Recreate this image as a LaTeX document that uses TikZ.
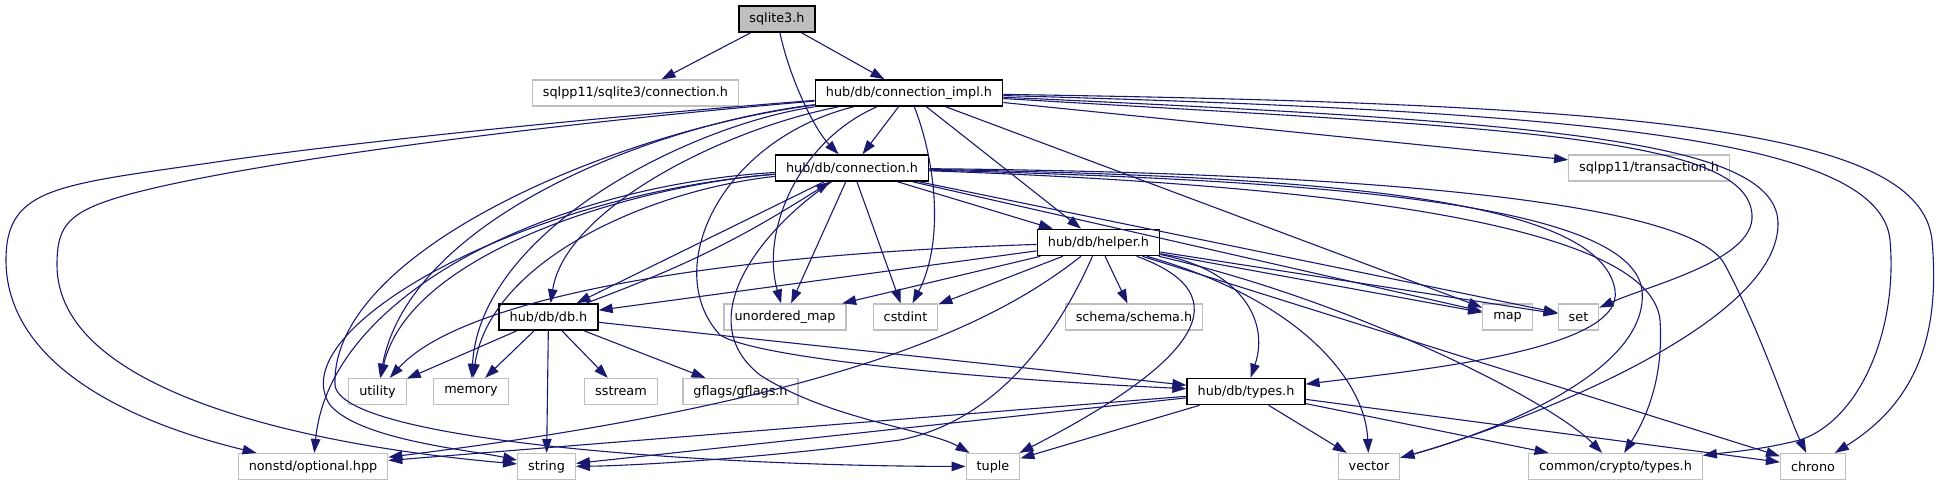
\documentclass[tikz,border=0pt]{standalone}
\usepackage{fontspec}
\setmainfont{DejaVu Sans}
\usetikzlibrary{arrows.meta}
\definecolor{edgeblue}{HTML}{191970}
\definecolor{extgray}{HTML}{BFBFBF}

\begin{document}
\begin{tikzpicture}[x=1pt, y=-1pt,
  every node/.style={rectangle, draw, minimum height=26pt, inner xsep=10.5pt, inner ysep=0pt,
    line width=1.2pt, font=\fontsize{12.8}{14}\selectfont},
  doc/.style={draw=black, fill=white, line width=1.6pt},
  ext/.style={draw=extgray, fill=white},
  dep/.style={draw=edgeblue, line width=1.1pt, -{Triangle[length=14pt,width=9.5pt]}}]
  \useasboundingbox (0,0) rectangle (1947,485);
  % include graph of sqlite3.h
  \node[doc, fill=extgray] (sq) at (777,19) {sqlite3.h};
  \node[ext] (sqc) at (635.5,93) {sqlpp11/sqlite3/connection.h};
  \node[doc] (impl) at (909,93) {hub/db/connection\_impl.h};
  \node[doc] (conn) at (852,168) {hub/db/connection.h};
  \node[ext] (tr) at (1649,168) {sqlpp11/transaction.h};
  \node[doc] (help) at (1098.5,242.5) {hub/db/helper.h};
  \node[doc] (db) at (548.5,317) {hub/db/db.h};
  \node[ext] (um) at (785,317) {unordered\_map};
  \node[ext] (ci) at (905.5,317) {cstdint};
  \node[ext] (sch) at (1134,317) {schema/schema.h};
  \node[ext] (map) at (1507.5,317) {map};
  \node[ext] (set) at (1578.5,317) {set};
  \node[ext] (util) at (377.5,391.5) {utility};
  \node[ext] (mem) at (471,391.5) {memory};
  \node[ext] (ss) at (621,391.5) {sstream};
  \node[ext] (gf) at (740.5,391.5) {gflags/gflags.h};
  \node[doc] (ty) at (1246,391.5) {hub/db/types.h};
  \node[ext] (opt) at (313,466.5) {nonstd/optional.hpp};
  \node[ext] (str) at (546.5,466.5) {string};
  \node[ext] (tup) at (993,466.5) {tuple};
  \node[ext] (vec) at (1369,466.5) {vector};
  \node[ext] (cry) at (1615.5,466.5) {common/crypto/types.h};
  \node[ext] (chr) at (1813,466.5) {chrono};

  % sqlite3.h
  \draw[dep] (sq) -- (sqc);
  \draw[dep] (sq) -- (impl);
  \draw[dep] (sq) .. controls (790,80) and (815,130) .. (conn);

  % connection_impl.h
  \draw[dep] (impl) -- (conn);
  \draw[dep] (impl) -- (help);
  \draw[dep] (impl) -- (tr);
  \draw[dep] (impl) -- (map);
  \draw[dep] (impl) .. controls (1500,128) and (1748,135) .. (1752,215) .. controls (1755,260) and (1650,285) .. (set);
  \draw[dep] (impl) .. controls (1550,122) and (1780,140) .. (1778,225) .. controls (1776,330) and (1500,430) .. (vec);
  \draw[dep] (impl) .. controls (1600,112) and (1880,140) .. (1890,240) .. controls (1898,330) and (1860,420) .. (1800,440) .. controls (1760,450) and (1730,452) .. (cry);
  \draw[dep] (impl) .. controls (1650,104) and (1920,130) .. (1932,240) .. controls (1940,330) and (1920,400) .. (chr);
  \draw[dep] (impl) .. controls (500,125) and (300,150) .. (230,160) .. controls (60,185) and (6,185) .. (6,260) .. controls (6,360) and (120,420) .. (opt);
  \draw[dep] (impl) .. controls (500,128) and (200,170) .. (110,200) .. controls (65,215) and (57,230) .. (57,265) .. controls (57,390) and (300,445) .. (str);
  \draw[dep] (impl) .. controls (650,125) and (410,220) .. (util);
  \draw[dep] (impl) .. controls (690,125) and (480,230) .. (mem);
  \draw[dep] (impl) .. controls (720,130) and (565,210) .. (db);
  \draw[dep] (impl) .. controls (800,140) and (760,230) .. (um);
  \draw[dep] (impl) .. controls (935,160) and (945,240) .. (ci);
  \draw[dep] (impl) .. controls (720,140) and (660,270) .. (720,335) .. controls (760,360) and (1000,380) .. (ty);
  \draw[dep] (impl) .. controls (620,130) and (330,250) .. (335,385) .. controls (340,440) and (700,466) .. (tup);

  % connection.h
  \draw[dep] (conn) -- (db);
  \draw[dep] (conn) -- (help);
  \draw[dep] (conn) -- (um);
  \draw[dep] (conn) -- (ci);
  \draw[dep] (conn) -- (map);
  \draw[dep] (conn) -- (set);
  \draw[dep] (conn) .. controls (1300,176) and (1600,195) .. (1615,290) .. controls (1625,350) and (1420,370) .. (ty);
  \draw[dep] (conn) .. controls (1300,180) and (1630,200) .. (1642,290) .. controls (1650,370) and (1500,430) .. (vec);
  \draw[dep] (conn) .. controls (1300,184) and (1650,220) .. (1660,320) .. controls (1664,380) and (1645,420) .. (cry);
  \draw[dep] (conn) .. controls (1300,172) and (1690,195) .. (1725,265) .. controls (1760,330) and (1790,420) .. (chr);
  \draw[dep] (conn) .. controls (640,185) and (410,250) .. (util);
  \draw[dep] (conn) .. controls (650,190) and (490,260) .. (mem);
  \draw[dep] (conn) .. controls (560,185) and (330,290) .. (opt);
  \draw[dep] (conn) .. controls (520,195) and (280,330) .. (330,405) .. controls (360,440) and (470,450) .. (str);
  \draw[dep] (conn) .. controls (760,230) and (690,320) .. (760,375) .. controls (830,420) and (930,430) .. (tup);

  % db.h
  \draw[dep] (db) to[bend right=6] (conn);
  \draw[dep] (db) -- (util);
  \draw[dep] (db) -- (mem);
  \draw[dep] (db) -- (str);
  \draw[dep] (db) -- (ss);
  \draw[dep] (db) -- (gf);
  \draw[dep] (db) -- (ty);

  % helper.h
  \draw[dep] (help) -- (db);
  \draw[dep] (help) .. controls (700,255) and (460,300) .. (util);
  \draw[dep] (help) -- (um);
  \draw[dep] (help) -- (ci);
  \draw[dep] (help) -- (sch);
  \draw[dep] (help) -- (map);
  \draw[dep] (help) -- (set);
  \draw[dep] (help) .. controls (1240,270) and (1270,320) .. (ty);
  \draw[dep] (help) .. controls (1230,290) and (1220,350) .. (tup);
  \draw[dep] (help) .. controls (1060,330) and (1000,420) .. (900,440) .. controls (750,460) and (620,466) .. (str);
  \draw[dep] (help) .. controls (1000,320) and (850,400) .. (opt);
  \draw[dep] (help) .. controls (1300,300) and (1365,380) .. (vec);
  \draw[dep] (help) .. controls (1350,300) and (1550,400) .. (cry);
  \draw[dep] (help) -- (chr);

  % types.h
  \draw[dep] (ty) -- (opt);
  \draw[dep] (ty) -- (str);
  \draw[dep] (ty) -- (tup);
  \draw[dep] (ty) -- (vec);
  \draw[dep] (ty) -- (cry);
  \draw[dep] (ty) -- (chr);
\end{tikzpicture}
\end{document}
